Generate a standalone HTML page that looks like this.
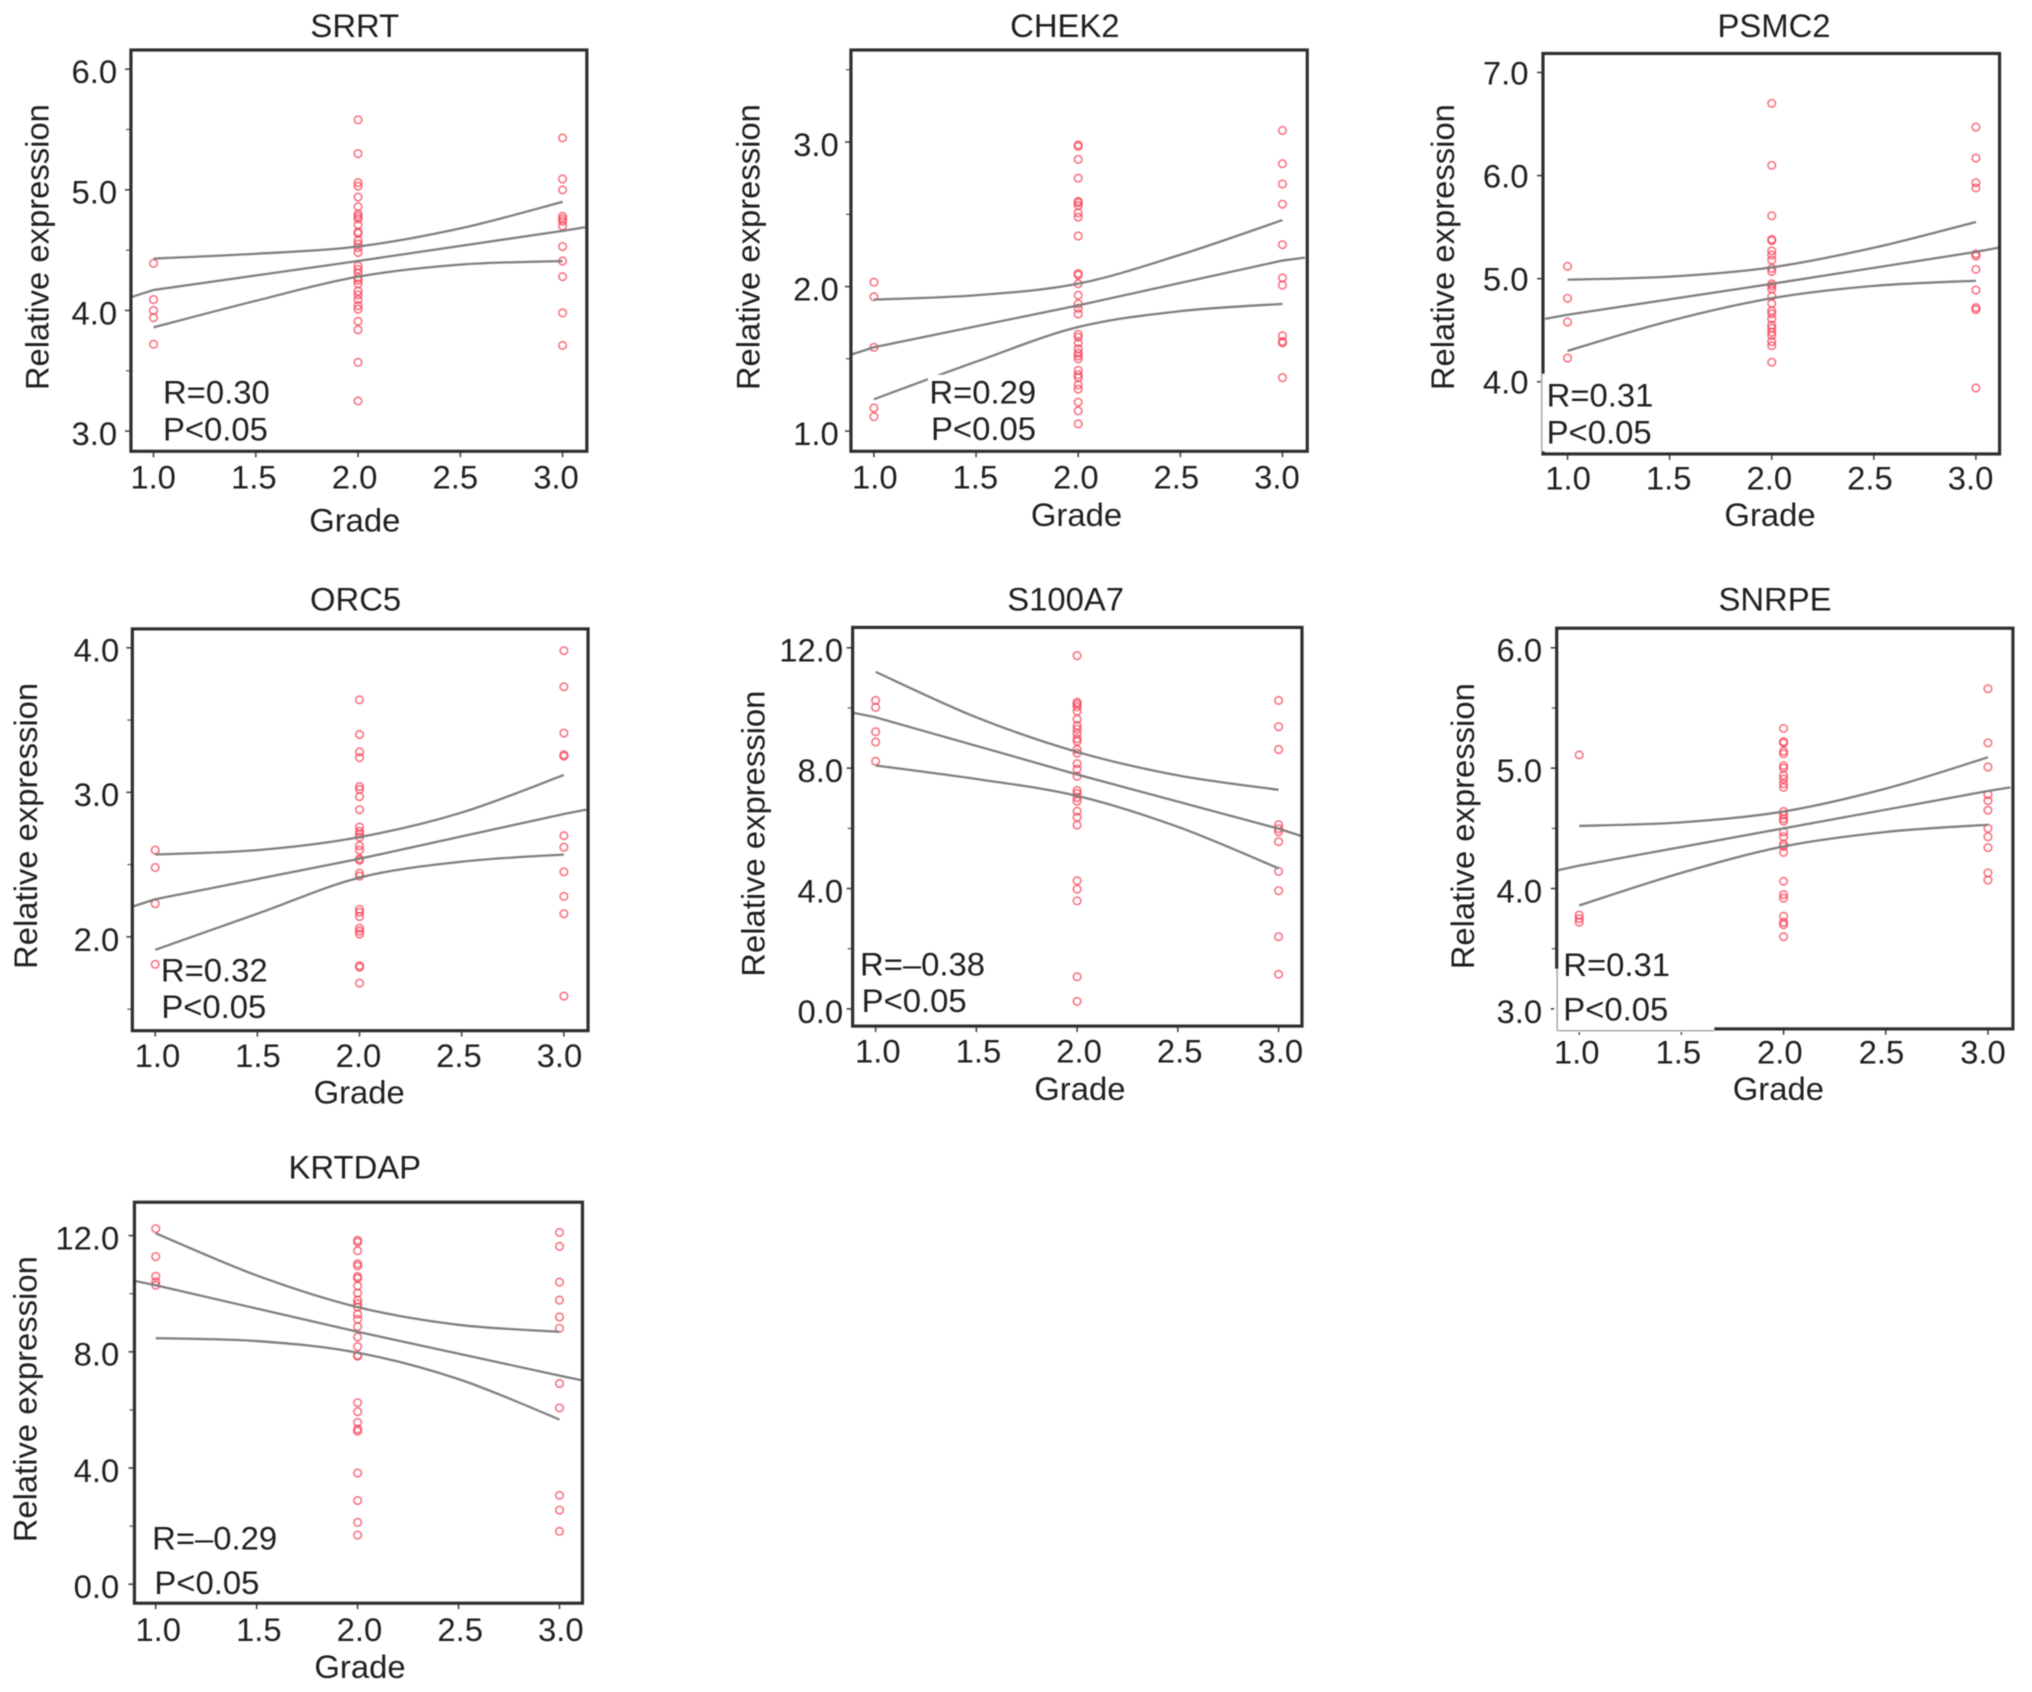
<!DOCTYPE html>
<html lang="en">
<head>
<meta charset="utf-8">
<title>Relative expression by grade</title>
<style>
html,body{margin:0;padding:0;background:#fff;width:2032px;height:1692px;overflow:hidden}
svg{display:block;filter:blur(0.6px)}
text{font-family:"Liberation Sans",Arial,sans-serif;font-size:33px;fill:#1f1f1f}
</style>
</head>
<body>
<svg id="figure" xmlns="http://www.w3.org/2000/svg" width="2032" height="1692" viewBox="0 0 2032 1692"></svg>
<script>
const gradeTicks = [1, 1.5, 2, 2.5, 3];
const curveGrades = [1, 1.5, 2, 2.5, 3];
const fitGrades = [0.89, 1, 2, 3, 3.11];

const srrtTitle = "SRRT";
const srrtR = "R=0.30";
const srrtP = "P<0.05";
const srrtMajor = [3, 4, 5, 6];
const srrtMinor = [3.5, 4.5, 5.5];
const srrtGrade1 = [4.39, 4.09, 4.0, 3.94, 3.72];
const srrtGrade2 = [5.58, 5.30, 5.06, 5.03, 4.94, 4.86, 4.80, 4.78, 4.76, 4.71, 4.65, 4.64, 4.58, 4.55, 4.52, 4.48, 4.37, 4.34, 4.31, 4.27, 4.25, 4.22, 4.16, 4.13, 4.09, 4.04, 4.01, 3.91, 3.84, 3.57, 3.25];
const srrtGrade3 = [5.43, 5.09, 5.0, 4.78, 4.76, 4.74, 4.70, 4.53, 4.41, 4.28, 3.98, 3.71];
const srrtUpper = [4.43, 4.47, 4.53, 4.68, 4.90];
const srrtFit = [4.11, 4.17, 4.41, 4.66, 4.69];
const srrtLower = [3.86, 4.08, 4.28, 4.38, 4.41];

const chek2Title = "CHEK2";
const chek2R = "R=0.29";
const chek2P = "P<0.05";
const chek2Major = [1, 2, 3];
const chek2Minor = [1.5, 2.5, 3.5];
const chek2Grade1 = [2.03, 1.93, 1.58, 1.16, 1.10];
const chek2Grade2 = [2.98, 2.97, 2.88, 2.75, 2.59, 2.58, 2.56, 2.51, 2.48, 2.35, 2.09, 2.08, 2.02, 1.94, 1.88, 1.85, 1.81, 1.67, 1.65, 1.61, 1.57, 1.54, 1.52, 1.50, 1.42, 1.39, 1.37, 1.32, 1.29, 1.20, 1.14, 1.05];
const chek2Grade3 = [3.08, 2.85, 2.71, 2.57, 2.29, 2.06, 2.01, 1.66, 1.62, 1.61, 1.37];
const chek2Upper = [1.91, 1.94, 2.02, 2.22, 2.46];
const chek2Fit = [1.53, 1.58, 1.87, 2.18, 2.20];
const chek2Lower = [1.22, 1.48, 1.72, 1.83, 1.88];

const psmc2Title = "PSMC2";
const psmc2R = "R=0.31";
const psmc2P = "P<0.05";
const psmc2Major = [4, 5, 6, 7];
const psmc2Minor = [];
const psmc2Grade1 = [5.12, 4.81, 4.58, 4.23];
const psmc2Grade2 = [6.70, 6.10, 5.61, 5.38, 5.37, 5.27, 5.23, 5.18, 5.10, 5.07, 4.95, 4.93, 4.90, 4.83, 4.76, 4.69, 4.66, 4.61, 4.55, 4.52, 4.48, 4.45, 4.39, 4.35, 4.19];
const psmc2Grade3 = [6.47, 6.17, 5.93, 5.88, 5.24, 5.22, 5.09, 4.89, 4.72, 4.70, 3.94];
const psmc2Upper = [4.99, 5.02, 5.11, 5.30, 5.55];
const psmc2Fit = [4.61, 4.65, 4.95, 5.26, 5.30];
const psmc2Lower = [4.30, 4.59, 4.81, 4.93, 4.98];

const orc5Title = "ORC5";
const orc5R = "R=0.32";
const orc5P = "P<0.05";
const orc5Major = [2, 3, 4];
const orc5Minor = [1.5, 2.5, 3.5];
const orc5Grade1 = [2.60, 2.48, 2.23, 1.81];
const orc5Grade2 = [3.64, 3.40, 3.28, 3.24, 3.04, 3.02, 2.97, 2.88, 2.76, 2.73, 2.71, 2.69, 2.63, 2.60, 2.54, 2.53, 2.44, 2.42, 2.19, 2.17, 2.14, 2.06, 2.04, 2.02, 1.80, 1.79, 1.68];
const orc5Grade3 = [3.98, 3.73, 3.41, 3.26, 3.25, 2.70, 2.62, 2.45, 2.28, 2.16, 1.59];
const orc5Upper = [2.57, 2.60, 2.69, 2.86, 3.12];
const orc5Fit = [2.21, 2.26, 2.54, 2.85, 2.88];
const orc5Lower = [1.91, 2.16, 2.41, 2.52, 2.57];

const s100a7Title = "S100A7";
const s100a7R = "R=\u20130.38";
const s100a7P = "P<0.05";
const s100a7Major = [0, 4, 8, 12];
const s100a7Minor = [2, 6, 10];
const s100a7Grade1 = [10.25, 10.02, 9.21, 8.87, 8.23];
const s100a7Grade2 = [11.74, 10.19, 10.13, 10.04, 9.89, 9.63, 9.42, 9.30, 9.15, 8.98, 8.89, 8.62, 8.50, 8.15, 7.97, 7.73, 7.26, 7.16, 7.02, 6.90, 6.57, 6.37, 6.11, 4.26, 3.98, 3.59, 1.07, 0.25];
const s100a7Grade3 = [10.25, 9.38, 8.62, 6.12, 5.99, 5.89, 5.56, 4.57, 3.93, 2.40, 1.15];
const s100a7Upper = [11.2, 9.69, 8.54, 7.76, 7.28];
const s100a7Fit = [9.84, 9.69, 7.79, 5.99, 5.75];
const s100a7Lower = [8.09, 7.64, 7.08, 6.05, 4.67];

const snrpeTitle = "SNRPE";
const snrpeR = "R=0.31";
const snrpeP = "P<0.05";
const snrpeMajor = [3, 4, 5, 6];
const snrpeMinor = [3.5, 4.5, 5.5];
const snrpeGrade1 = [5.11, 3.78, 3.75, 3.72];
const snrpeGrade2 = [5.33, 5.22, 5.21, 5.14, 5.12, 5.02, 5.0, 4.94, 4.91, 4.87, 4.84, 4.64, 4.61, 4.58, 4.56, 4.47, 4.43, 4.37, 4.35, 4.30, 4.06, 3.95, 3.92, 3.77, 3.72, 3.70, 3.60];
const snrpeGrade3 = [5.66, 5.21, 5.01, 4.78, 4.73, 4.65, 4.50, 4.43, 4.34, 4.13, 4.07];
const snrpeUpper = [4.52, 4.55, 4.64, 4.83, 5.09];
const snrpeFit = [4.15, 4.19, 4.50, 4.81, 4.84];
const snrpeLower = [3.86, 4.13, 4.35, 4.47, 4.53];

const krtdapTitle = "KRTDAP";
const krtdapR = "R=\u20130.29";
const krtdapP = "P<0.05";
const krtdapMajor = [0, 4, 8, 12];
const krtdapMinor = [2, 6, 10];
const krtdapGrade1 = [12.24, 11.28, 10.6, 10.41, 10.29];
const krtdapGrade2 = [11.84, 11.78, 11.48, 11.03, 10.96, 10.59, 10.53, 10.27, 10.02, 9.78, 9.66, 9.54, 9.30, 9.12, 8.87, 8.51, 8.18, 7.88, 7.85, 6.25, 5.94, 5.57, 5.34, 5.27, 3.83, 2.88, 2.13, 1.69];
const krtdapGrade3 = [12.11, 11.63, 10.40, 9.78, 9.20, 8.81, 6.91, 6.07, 3.06, 2.55, 1.82];
const krtdapUpper = [12.08, 10.63, 9.54, 8.93, 8.69];
const krtdapFit = [10.45, 10.29, 8.69, 7.18, 7.02];
const krtdapLower = [8.47, 8.37, 7.97, 7.06, 5.67];

/* Panel frames and label placement (layout only, no data). */
const panels = [
  {id:"srrt", title:srrtTitle, r:srrtR, p:srrtP, major:srrtMajor, minor:srrtMinor, g1:srrtGrade1, g2:srrtGrade2, g3:srrtGrade3, upper:srrtUpper, fit:srrtFit, lower:srrtLower,
   ox:0,oy:0,
   L:131.6,R:589.8,T:50.3,B:454, x1:154.3,x3:565.4, vA:6,pA:69.6,vB:3,pB:433.7,
   lx1:153.9,lx3:558.8,lxBase:491.6, titleX:356.6,titleY:37, yLabX:49,yLabY:248.6, gradeX:356.6,gradeY:534.6, tickRight:117.7,tickOff:14,
   rX:163.8,rY:406,pX:163.8,pY:443, masks:[], thin:[]},
  {id:"chek2", title:chek2Title, r:chek2R, p:chek2P, major:chek2Major, minor:chek2Minor, g1:chek2Grade1, g2:chek2Grade2, g3:chek2Grade3, upper:chek2Upper, fit:chek2Fit, lower:chek2Lower,
   ox:700,oy:0,
   L:851.7,R:1310.3,T:50.3,B:454, x1:874.8,x3:1285.4, vA:3,pA:142.9,vB:1,pB:433.7,
   lx1:875.7,lx3:1279.8,lxBase:491.6, titleX:1066.7,titleY:37, yLabX:760,yLabY:248.6, gradeX:1078.4,gradeY:529.1, tickRight:839.5,tickOff:14,
   rX:930.5,rY:406,pX:932.2,pY:442.6, masks:[[929,377,112,72]], thin:[]},
  {id:"psmc2", title:psmc2Title, r:psmc2R, p:psmc2P, major:psmc2Major, minor:psmc2Minor, g1:psmc2Grade1, g2:psmc2Grade2, g3:psmc2Grade3, upper:psmc2Upper, fit:psmc2Fit, lower:psmc2Lower,
   ox:1380,oy:0,
   L:1543.8,R:2002.7,T:53.8,B:456.7, x1:1568.5,x3:1978.9, vA:7,pA:72.9,vB:4,pB:384.1,
   lx1:1569,lx3:1973.5,lxBase:492.3, titleX:1776,titleY:37, yLabX:1454.2,yLabY:248.6, gradeX:1772,gradeY:529.1, tickRight:1529.2,tickOff:12,
   rX:1547.5,rY:409,pX:1547.5,pY:446, masks:[[1541.5,376,6,78]], thin:[[1542.5,376,1542.5,455]]},
  {id:"orc5", title:orc5Title, r:orc5R, p:orc5P, major:orc5Major, minor:orc5Minor, g1:orc5Grade1, g2:orc5Grade2, g3:orc5Grade3, upper:orc5Upper, fit:orc5Fit, lower:orc5Lower,
   ox:0,oy:580,
   L:133,R:591,T:629.2,B:1033.4, x1:156,x3:566.7, vA:4,pA:648.2,vB:2,pB:939,
   lx1:158.2,lx3:562.3,lxBase:1069.8, titleX:357.4,titleY:610.5, yLabX:37.4,yLabY:827.4, gradeX:361,gradeY:1106.6, tickRight:119.9,tickOff:14,
   rX:161.7,rY:983.8,pX:162.2,pY:1020.8, masks:[], thin:[]},
  {id:"s100a7", title:s100a7Title, r:s100a7R, p:s100a7P, major:s100a7Major, minor:s100a7Minor, g1:s100a7Grade1, g2:s100a7Grade2, g3:s100a7Grade3, upper:s100a7Upper, fit:s100a7Fit, lower:s100a7Lower,
   ox:700,oy:580,
   L:853.4,R:1305,T:627.7,B:1028.8, x1:876.5,x3:1281.5, vA:12,pA:648.2,vB:0,pB:1011.5,
   lx1:878.7,lx3:1283.2,lxBase:1065.6, titleX:1067.5,titleY:610.5, yLabX:764.9,yLabY:835.2, gradeX:1081.8,gradeY:1102.9, tickRight:843.8,tickOff:14,
   rX:860.8,rY:977.7,pX:862.5,pY:1014.7, masks:[], thin:[]},
  {id:"snrpe", title:snrpeTitle, r:snrpeR, p:snrpeP, major:snrpeMajor, minor:snrpeMinor, g1:snrpeGrade1, g2:snrpeGrade2, g3:snrpeGrade3, upper:snrpeUpper, fit:snrpeFit, lower:snrpeLower,
   ox:1380,oy:580,
   L:1557.6,R:2016.1,T:628.5,B:1031.6, x1:1580.2,x3:1991, vA:6,pA:648.2,vB:3,pB:1011.5,
   lx1:1577.7,lx3:1986,lxBase:1066.3, titleX:1777,titleY:610.5, yLabX:1474.3,yLabY:827.7, gradeX:1780.4,gradeY:1102.9, tickRight:1543,tickOff:14,
   rX:1564.2,rY:978.4,pX:1564.2,pY:1023.3, masks:[[1559.8,960,157,70],[1555,1029,161,6],[1555,971,5,60]], thin:[[1558,971,1558,1034],[1559,1033.5,1716,1033.5]]},
  {id:"krtdap", title:krtdapTitle, r:krtdapR, p:krtdapP, major:krtdapMajor, minor:krtdapMinor, g1:krtdapGrade1, g2:krtdapGrade2, g3:krtdapGrade3, upper:krtdapUpper, fit:krtdapFit, lower:krtdapLower,
   ox:0,oy:1140,
   L:135.1,R:585.4,T:1202.6,B:1606, x1:156.5,x3:562.3, vA:12,pA:1236.2,vB:0,pB:1586.9,
   lx1:159,lx3:563.6,lxBase:1644, titleX:356.6,titleY:1178.9, yLabX:36.6,yLabY:1400.8, gradeX:361.8,gradeY:1681.2, tickRight:119.9,tickOff:14,
   rX:152.9,rY:1552,pX:155.2,pY:1596.7, masks:[], thin:[]}
];

const NS = "http://www.w3.org/2000/svg";
const figure = document.getElementById("figure");

function make(parent, tag, attrs, txt) {
  const el = document.createElementNS(NS, tag);
  for (const k in attrs) el.setAttribute(k, attrs[k]);
  if (txt !== undefined) el.textContent = txt;
  parent.appendChild(el);
  return el;
}

function smoothPath(pts) {
  let d = "M" + pts[0][0].toFixed(2) + " " + pts[0][1].toFixed(2);
  for (let i = 0; i < pts.length - 1; i++) {
    const p0 = pts[Math.max(i - 1, 0)], p1 = pts[i], p2 = pts[i + 1], p3 = pts[Math.min(i + 2, pts.length - 1)];
    const c1x = p1[0] + (p2[0] - p0[0]) / 6, c1y = p1[1] + (p2[1] - p0[1]) / 6;
    const c2x = p2[0] - (p3[0] - p1[0]) / 6, c2y = p2[1] - (p3[1] - p1[1]) / 6;
    d += "C" + c1x.toFixed(2) + " " + c1y.toFixed(2) + " " + c2x.toFixed(2) + " " + c2y.toFixed(2) + " " + p2[0].toFixed(2) + " " + p2[1].toFixed(2);
  }
  return d;
}

function drawPanel(c) {
  const xScale = v => c.x1 + (v - 1) * (c.x3 - c.x1) / 2;
  const yScale = v => c.pA + (c.vA - v) * (c.pB - c.pA) / (c.vA - c.vB);
  const labelX = v => c.lx1 + (v - 1) * (c.lx3 - c.lx1) / 2;

  const g = make(figure, "g", {transform: "translate(" + c.ox + " " + c.oy + ") scale(0.995 0.994) translate(" + (-c.ox) + " " + (-c.oy) + ")"});
  
  

  const clipId = "clip-" + c.id;
  const defs = make(g, "defs", {});
  const clip = make(defs, "clipPath", {id: clipId});
  make(clip, "rect", {x: c.L, y: c.T, width: c.R - c.L, height: c.B - c.T});

  const title = make(g, "text", {x: c.titleX, y: c.titleY, "text-anchor": "middle"}, c.title);
  
  

  const yTitle = make(g, "text", {x: c.yLabX, y: c.yLabY, "text-anchor": "middle", transform: "rotate(-90 " + c.yLabX + " " + c.yLabY + ")"}, "Relative expression");
  
  

  const xTitle = make(g, "text", {x: c.gradeX, y: c.gradeY, "text-anchor": "middle"}, "Grade");
  
  

  gradeTicks.forEach(t => {
    const px = xScale(t);
    const tick = make(g, "line", {x1: px, x2: px, y1: c.B, y2: c.B + 6, stroke: "#444", "stroke-width": 1.6});
    
    
    const lab = make(g, "text", {x: labelX(t), y: c.lxBase, "text-anchor": "middle"}, t.toFixed(1));
    
    
  });

  c.major.forEach(t => {
    const py = yScale(t);
    const tick = make(g, "line", {x1: c.L - 6, x2: c.L, y1: py, y2: py, stroke: "#444", "stroke-width": 1.6});
    
    
    const lab = make(g, "text", {x: c.tickRight, y: py + c.tickOff, "text-anchor": "end"}, t.toFixed(1));
    
    
  });

  c.minor.forEach(t => {
    const py = yScale(t);
    const tick = make(g, "line", {x1: c.L - 5, x2: c.L, y1: py, y2: py, stroke: "#666", "stroke-width": 1.4});
    
    
  });

  const points = make(g, "g", {});
  
  
  [[1, c.g1], [2, c.g2], [3, c.g3]].forEach(group => {
    group[1].forEach(v => {
      const dot = make(points, "circle", {cx: xScale(group[0]), cy: yScale(v), r: 3.8, fill: "none", stroke: "#f5384f", "stroke-opacity": 0.7, "stroke-width": 1.6});
      
      
    });
  });

  const upperLine = make(g, "path", {d: smoothPath(curveGrades.map((x, i) => [xScale(x), yScale(c.upper[i])])), fill: "none", stroke: "#7f7f7f", "stroke-width": 2.3});
  
  

  const lowerLine = make(g, "path", {d: smoothPath(curveGrades.map((x, i) => [xScale(x), yScale(c.lower[i])])), fill: "none", stroke: "#7f7f7f", "stroke-width": 2.3});
  
  

  const fitLine = make(g, "path", {d: "M" + fitGrades.map((x, i) => xScale(x).toFixed(2) + " " + yScale(c.fit[i]).toFixed(2)).join("L"), fill: "none", stroke: "#7f7f7f", "stroke-width": 2.3, "clip-path": "url(#" + clipId + ")"});
  
  

  const frame = make(g, "rect", {x: c.L, y: c.T, width: c.R - c.L, height: c.B - c.T, fill: "none", stroke: "#2e2e2e", "stroke-width": 3.2});
  
  

  c.masks.forEach(m => {
    const mask = make(g, "rect", {x: m[0], y: m[1], width: m[2], height: m[3], fill: "#fff"});
    
    
  });
  c.thin.forEach(t => {
    const seg = make(g, "line", {x1: t[0], y1: t[1], x2: t[2], y2: t[3], stroke: "#999", "stroke-width": 1.3});
    
    
  });

  const rText = make(g, "text", {x: c.rX, y: c.rY}, c.r);
  
  

  const pText = make(g, "text", {x: c.pX, y: c.pY}, c.p);
  
  
}

panels.forEach(drawPanel);
</script>
</body>
</html>
